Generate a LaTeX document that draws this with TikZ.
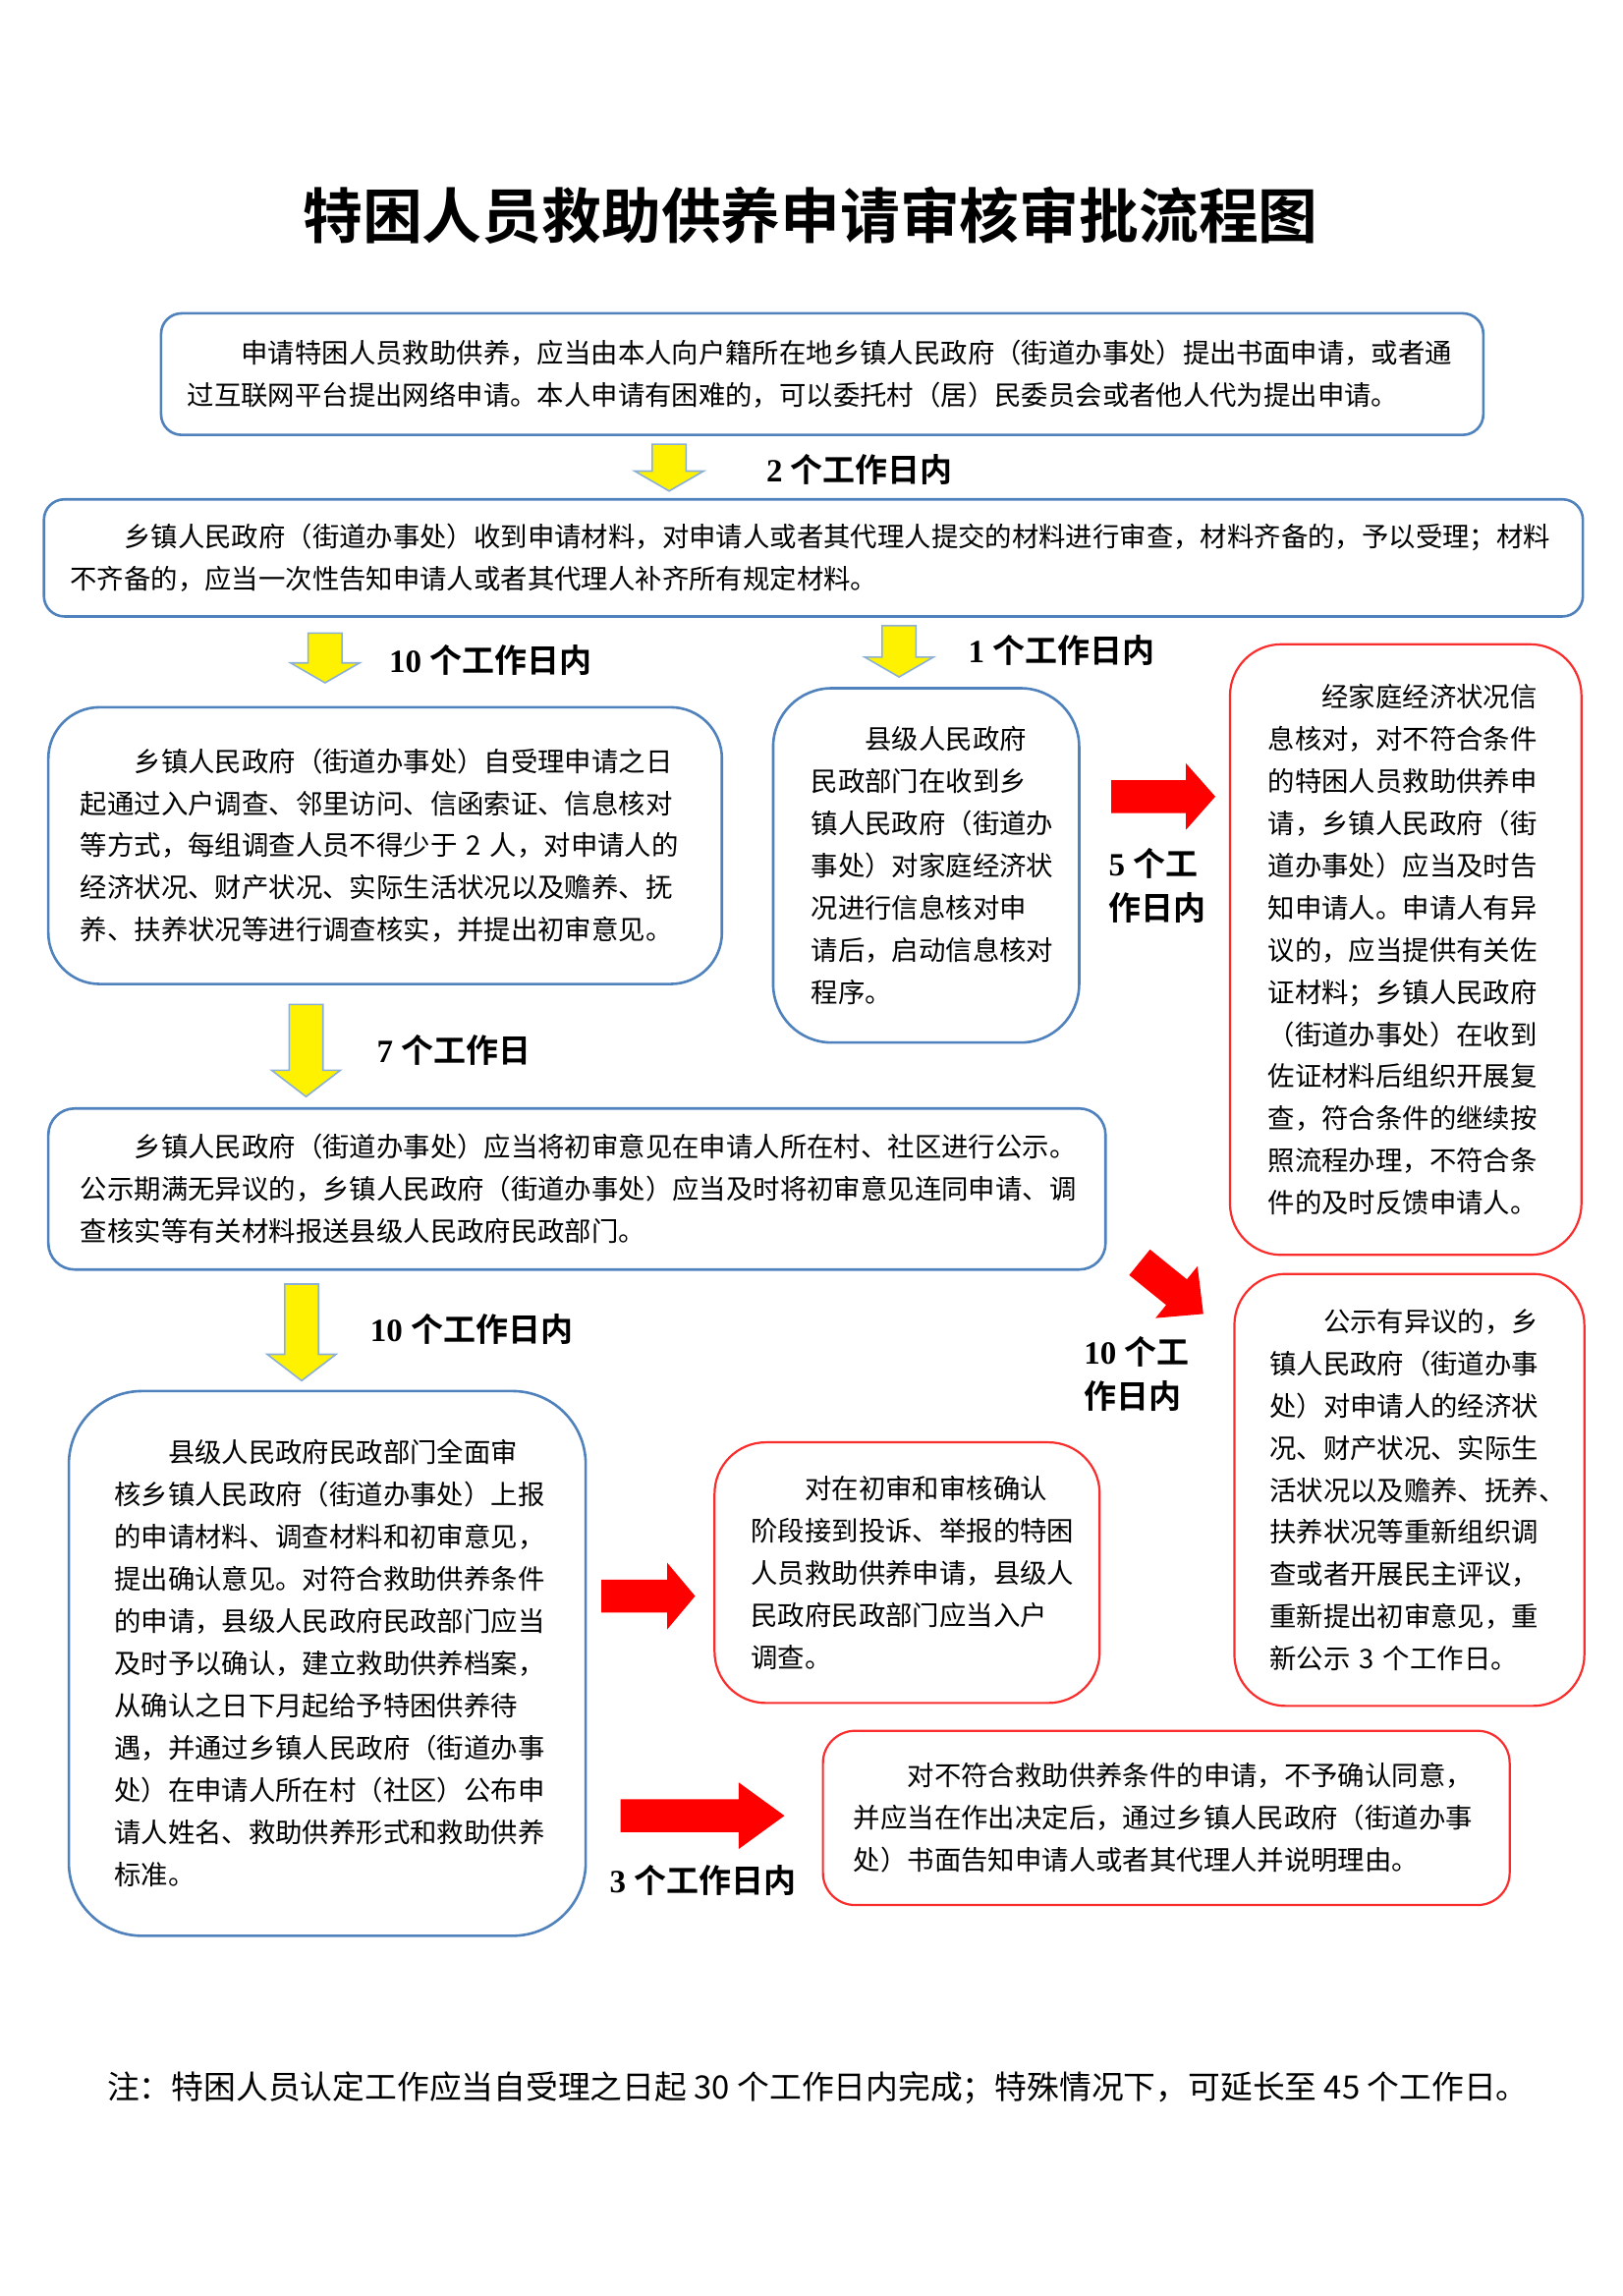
\documentclass[tikz,border=0pt]{standalone}
\usepackage{fontspec}
\setmainfont{Liberation Serif}
\newfontfamily\cjk{Noto Sans CJK SC}[BoldFont={Noto Sans CJK SC Bold}]
\usetikzlibrary{shapes.arrows}

\newlength\upx
\setlength\upx{0.7455pt}
\definecolor{boxblue}{RGB}{79,129,189}
\definecolor{boxred}{RGB}{250,45,45}
\definecolor{arredge}{RGB}{140,175,215}
\definecolor{arrred}{RGB}{255,0,0}
\newcommand\bodyfont{\cjk\fontsize{13.7pt}{21.5pt}\selectfont}
\newcommand\daysfont{\bfseries\fontsize{16.5pt}{22.4pt}\selectfont}

\begin{document}
\begin{tikzpicture}[
  x=0.7455pt, y=-0.7455pt,
  box/.style={draw=boxblue, line width=1.3pt, fill=white, align=left,
              inner sep=0pt, font=\bodyfont},
  redbox/.style={box, draw=boxred, line width=1.1pt},
  sz/.style 2 args={minimum width=#1\upx, minimum height=#2\upx},
  tw/.style={text width=#1\upx},
  rc/.style={rounded corners=#1\upx},
  yarr/.style={single arrow, fill=yellow, draw=arredge, line width=0.8pt,
               inner xsep=0pt, inner ysep=11\upx, minimum width=46\upx,
               single arrow head extend=12\upx, single arrow tip angle=#1,
               rotate=-90},
  rarr/.style={single arrow, fill=arrred, draw=none, inner xsep=0pt,
               inner ysep=11\upx, minimum width=45\upx,
               single arrow head extend=11.5\upx, single arrow tip angle=#1},
  days/.style={font=\daysfont, align=left, inner sep=0pt},
]
\useasboundingbox (0,0) rectangle (1108,1568);

% ---------- title ----------
\node[font=\cjk\bfseries\fontsize{30.4pt}{36pt}\selectfont] (title) at (553.5,147)
  {特困人员救助供养申请审核审批流程图};

% ---------- application / acceptance ----------
\node[box, rc=14, sz={903}{83}, tw=867] (apply) at (561.5,255.5)
  {\hspace*{2em}申请特困人员救助供养，应当由本人向户籍所在地乡镇人民政府（街道办事处）提出书面申请，或者通\\
   过互联网平台提出网络申请。本人申请有困难的，可以委托村（居）民委员会或者他人代为提出申请。};
\node[box, rc=14, sz={1051}{80}, tw=1015] (accept) at (555.5,381)
  {\hspace*{2em}乡镇人民政府（街道办事处）收到申请材料，对申请人或者其代理人提交的材料进行审查，材料齐备的，予以受理；材料\\
   不齐备的，应当一次性告知申请人或者其代理人补齐所有规定材料。};

% ---------- survey and information check ----------
\node[box, rc=35, sz={460}{189}, tw=416] (survey) at (263,577.5)
  {\hspace*{2em}乡镇人民政府（街道办事处）自受理申请之日\\
   起通过入户调查、邻里访问、信函索证、信息核对\\
   等方式，每组调查人员不得少于~2~人，对申请人的\\
   经济状况、财产状况、实际生活状况以及赡养、抚\\
   养、扶养状况等进行调查核实，并提出初审意见。};
\node[box, rc=40, sz={209}{242}, tw=157] (verify) at (632.5,591)
  {\hspace*{2em}县级人民政府\\民政部门在收到乡\\镇人民政府（街道办\\事处）对家庭经济状\\况进行信息核对申\\请后，启动信息核对\\程序。};
\node[redbox, rc=35, sz={240}{417}, tw=188] (notify) at (960,648.5)
  {\hspace*{2em}经家庭经济状况信\\息核对，对不符合条件\\的特困人员救助供养申\\请，乡镇人民政府（街\\道办事处）应当及时告\\知申请人。申请人有异\\议的，应当提供有关佐\\证材料；乡镇人民政府\\（街道办事处）在收到\\佐证材料后组织开展复\\查，符合条件的继续按\\照流程办理，不符合条\\件的及时反馈申请人。};

% ---------- publicity ----------
\node[box, rc=18, sz={722}{110}, tw=678] (publish) at (394,812)
  {\hspace*{2em}乡镇人民政府（街道办事处）应当将初审意见在申请人所在村、社区进行公示。\\
   公示期满无异议的，乡镇人民政府（街道办事处）应当及时将初审意见连同申请、调\\
   查核实等有关材料报送县级人民政府民政部门。};
\node[redbox, rc=35, sz={239}{295}, tw=191] (recheck) at (962.5,1017.5)
  {\hspace*{2em}公示有异议的，乡\\镇人民政府（街道办事\\处）对申请人的经济状\\况、财产状况、实际生\\活状况以及赡养、抚养、\\扶养状况等重新组织调\\查或者开展民主评议，\\重新提出初审意见，重\\新公示~3~个工作日。};

% ---------- confirmation ----------
\node[box, rc=50, sz={353}{372}, tw=291] (confirm) at (223.5,1136)
  {\hspace*{2em}县级人民政府民政部门全面审\\核乡镇人民政府（街道办事处）上报\\的申请材料、调查材料和初审意见，\\提出确认意见。对符合救助供养条件\\的申请，县级人民政府民政部门应当\\及时予以确认，建立救助供养档案，\\从确认之日下月起给予特困供养待\\遇，并通过乡镇人民政府（街道办事\\处）在申请人所在村（社区）公布申\\请人姓名、救助供养形式和救助供养\\标准。};
\node[redbox, rc=35, sz={263}{178}, tw=213] (complain) at (619.5,1074)
  {\hspace*{2em}对在初审和审核确认\\阶段接到投诉、举报的特困\\人员救助供养申请，县级人\\民政府民政部门应当入户\\调查。};
\node[redbox, rc=22, sz={469}{119}, tw=427] (reject) at (796.5,1241.5)
  {\hspace*{2em}对不符合救助供养条件的申请，不予确认同意，\\
   并应当在作出决定后，通过乡镇人民政府（街道办事\\
   处）书面告知申请人或者其代理人并说明理由。};

% ---------- block arrows ----------
\node[yarr=120, minimum height=32\upx] (a1) at (457,316) {};
\node[yarr=120, minimum height=34\upx] (a2) at (222,446) {};
\node[yarr=120, minimum height=35\upx] (a3) at (614,441.5) {};
\node[yarr=105, minimum height=63\upx] (a4) at (209,713) {};
\node[yarr=105, minimum height=66\upx] (a5) at (206,905.5) {};
\node[rarr=97, minimum height=71\upx] (a6) at (789.5,544) {};
\node[rarr=88, minimum height=56\upx, rotate=-39] (a7) at (795.5,876) {};
\node[rarr=100, minimum height=64\upx] (a8) at (438,1090) {};
\node[rarr=72, minimum height=112\upx] (a9) at (472,1240) {};

% ---------- time limits ----------
\node[days] (t1) at (587,321) {2 {\cjk 个工作日内}};
\node[days] (t2) at (335,451) {10 {\cjk 个工作日内}};
\node[days] (t3) at (725,444) {1 {\cjk 个工作日内}};
\node[days, anchor=west] (t4) at (757,605) {5 {\cjk 个工}\\{\cjk 作日内}};
\node[days] (t5) at (310,717) {7 {\cjk 个工作日}};
\node[days, anchor=west] (t6) at (740,938.5) {10 {\cjk 个工}\\{\cjk 作日内}};
\node[days] (t7) at (322,908) {10 {\cjk 个工作日内}};
\node[days] (t8) at (480,1284) {3 {\cjk 个工作日内}};

% ---------- note ----------
\node[font=\cjk\fontsize{16.4pt}{20pt}\selectfont] (note) at (558.5,1426)
  {注：特困人员认定工作应当自受理之日起 30 个工作日内完成；特殊情况下，可延长至 45 个工作日。};

\end{tikzpicture}
\end{document}
